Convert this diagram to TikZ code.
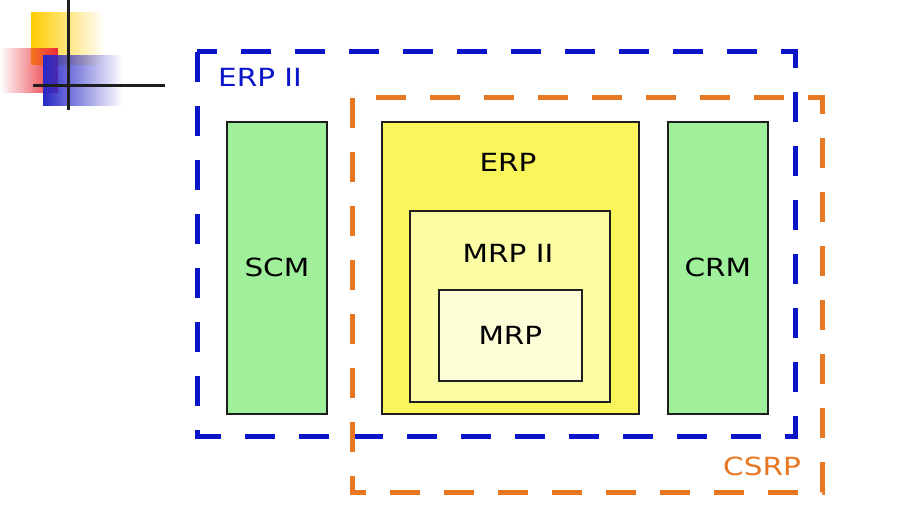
\documentclass[tikz,border=0pt]{standalone}
\usepackage{fontspec}
\setmainfont[FakeStretch=1.18]{DejaVu Sans}
\usetikzlibrary{fadings}
\definecolor{dblue}{RGB}{10,20,200}
\definecolor{dorange}{RGB}{232,119,34}
\definecolor{lgreen}{RGB}{160,240,155}
\definecolor{yel1}{RGB}{250,245,90}
\definecolor{yel2}{RGB}{252,252,165}
\definecolor{yel3}{RGB}{253,253,215}
\definecolor{edge}{RGB}{30,30,30}
\definecolor{logoY}{RGB}{255,204,0}
\definecolor{logoR}{RGB}{235,40,50}
\definecolor{logoB}{RGB}{40,40,200}
\tikzfading[name=fadeYR, left color=transparent!0, middle color=transparent!0, right color=transparent!100]
\tikzfading[name=fadeRL, left color=transparent!100, right color=transparent!0]
\begin{document}
\begin{tikzpicture}[x=1pt,y=-1pt,
  lbl/.style={font=\fontsize{25}{25}\selectfont, inner sep=0pt},
  boxE/.style={draw=edge, line width=1.8pt},
  dashB/.style={draw=dblue, line width=5pt, dash pattern=on 30pt off 24pt},
  dashO/.style={draw=dorange, line width=5pt, dash pattern=on 30pt off 24pt}]
\useasboundingbox (0,0) rectangle (897,521);
\fill[white] (0,0) rectangle (897,521);
% logo
\fill[logoY, path fading=fadeYR] (31,12) rectangle (104,65);
\fill[logoR, path fading=fadeRL] (0,48) rectangle (58,93);
\fill[logoB, path fading=fadeYR] (43,55) rectangle (122,106);
\draw[edge, line width=3pt] (68,0) -- (68,110);
\draw[edge, line width=3pt] (33,86) -- (165,86);
% boxes
\node[boxE, fill=lgreen, minimum width=100pt, minimum height=292pt, anchor=north west] (scm) at (226,121) {};
\node[lbl] at (scm.center) {SCM};
\node[boxE, fill=lgreen, minimum width=100pt, minimum height=292pt, anchor=north west] (crm) at (667,121) {};
\node[lbl] at (crm.center) {CRM};
\node[boxE, fill=yel1, minimum width=257pt, minimum height=292pt, anchor=north west] (erp) at (381,121) {};
\node[lbl] at (508,162) {ERP};
\node[boxE, fill=yel2, minimum width=200pt, minimum height=191pt, anchor=north west] (mrp2) at (409,210) {};
\node[lbl] at (508,253) {MRP II};
\node[boxE, fill=yel3, minimum width=143pt, minimum height=91pt, anchor=north west] (mrp) at (438,289) {};
\node[lbl] at (mrp.center) {MRP};
% dashed frames
\draw[dashB] (197,52) rectangle (795,436);
\draw[dashO] (352,98) rectangle (822,492);
\node[lbl, text=dblue] (erp2) at (260,77) {ERP II};
\node[lbl, text=dorange] (csrp) at (762,466) {CSRP};
\end{tikzpicture}
\end{document}
